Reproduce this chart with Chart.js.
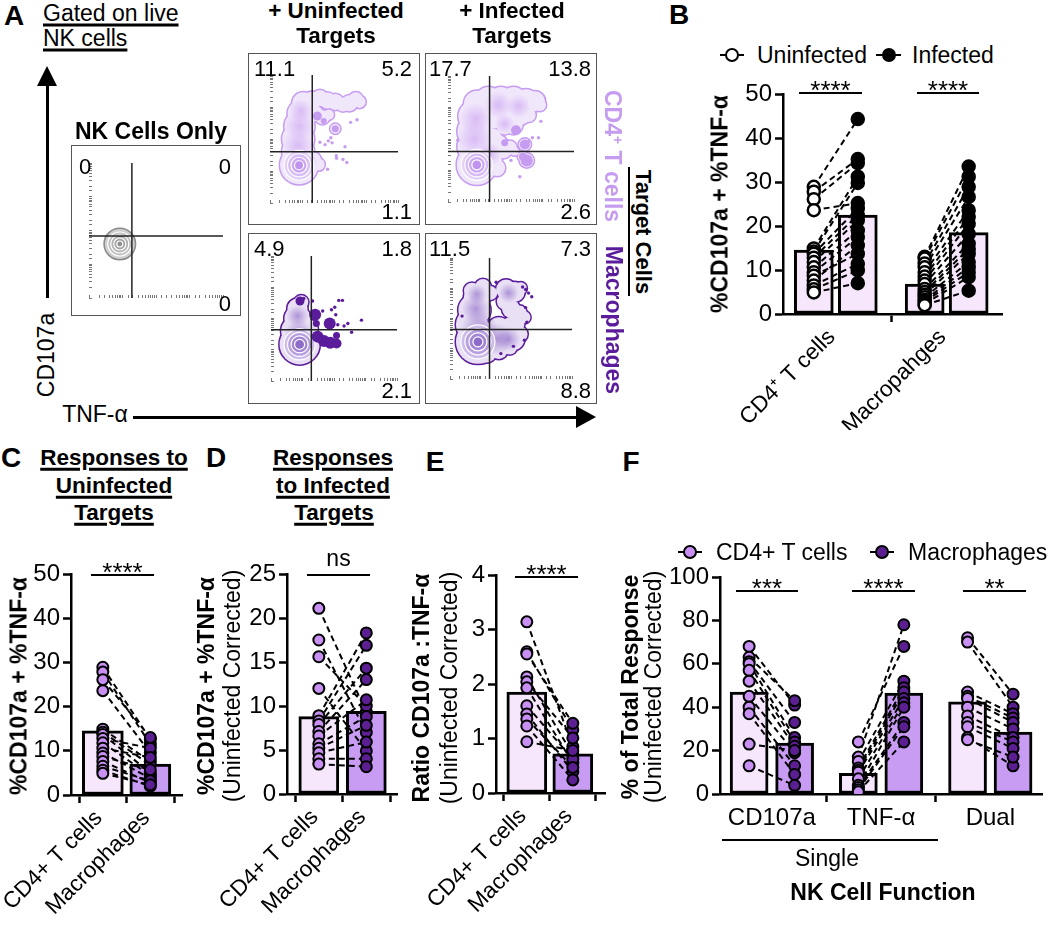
<!DOCTYPE html>
<html>
<head>
<meta charset="utf-8">
<script src="https://cdn.jsdelivr.net/npm/chart.js@4.4.0/dist/chart.umd.min.js"></script>
<style>
  html, body { margin: 0; padding: 0; background: #fff; }
  #fig { position: relative; width: 1050px; height: 925px; overflow: hidden;
         font-family: 'Liberation Sans', Arial, Helvetica, sans-serif; color: #000; }
  #fig canvas { position: absolute; }
  .abs { position: absolute; white-space: nowrap; line-height: 1; }
  .u { text-decoration: underline; text-decoration-thickness: 2.5px; text-underline-offset: 3px; }
  .box { position: absolute; box-sizing: border-box; border: 1.5px solid #555; pointer-events: none; }
  .bar { position: absolute; background: #000; }
</style>
</head>
<body>
<div id="fig"></div>
<script>
// ---- Panel A : flow plots (x = TNF-a, y = CD107a, both 0-100 of the axis range)
const nkBlobs = [[23, 40, 15]];
const nkCore = [23, 40];
const nkRings = [12, 9, 6, 3];
const nkGate = [32, 46];
const nkQuad = ['0', '0', '0'];

const tlBlobs = [[22.7, 29.5, 19], [22, 40, 16], [22, 50, 16], [23, 60, 15], [24, 70, 13], [26, 78, 11],
  [33, 33, 9], [38, 30, 6], [33, 80, 9], [39, 82, 8], [45, 80, 8], [51, 79, 8], [57, 77, 7], [62, 78, 8],
  [67, 81, 7], [70, 79, 6], [35, 70, 8], [41, 67, 7], [46, 69, 5], [51, 58, 5]];
const tlDense = [[22, 45, 16], [23, 60, 15], [24, 72, 12], [29, 32, 10]];
const tlSolids = [[37, 68, 4.5], [51, 58, 3.5], [42, 64, 3]];
const tlDots = [[63, 63], [68, 65], [39, 47.5], [43, 45.6], [45.6, 48.5], [48.5, 47], [58.6, 44], [47.5, 51],
  [51.8, 37], [57, 34], [60, 31.6], [45, 26.4], [52, 35]];
const tlCore = [22.7, 29.5];
const tlRings = [15, 11.5, 8, 4.5];
const tlGate = [33, 40];
const tlQuad = ['11.1', '5.2', '1.1'];

const trBlobs = [[22.9, 29.5, 20], [21, 44, 17], [21, 56, 17], [21, 68, 16], [23, 78, 13],
  [32, 81, 13], [42, 81, 13], [52, 81, 13], [62, 80, 12], [69, 80, 10], [73, 77, 6],
  [37, 68, 12], [47, 70, 12], [57, 69, 10], [64, 69, 7], [52, 61, 9], [45, 60, 8],
  [34, 50, 11], [40, 46, 9], [44, 41, 8], [49, 43, 7], [34, 33, 11], [39, 27, 8],
  [61, 45.6, 6], [59.5, 36, 5], [62.5, 33, 7], [53, 40, 4], [47.5, 43, 6]];
const trDense = [[21, 50, 18], [22, 66, 16], [40, 77, 14], [56, 76, 12], [33, 38, 12], [45, 62, 10]];
const trSolids = [[61, 45.6, 5], [62.5, 33, 6], [59.5, 36, 4], [54, 57, 5], [45, 47, 3.5]];
const trDots = [[7.8, 49], [73.7, 64], [67, 51], [71.8, 51], [57, 20], [50, 33], [46.6, 49], [64, 48]];
const trCore = [22.9, 29.5];
const trRings = [15.5, 12, 8.5, 5];
const trGate = [33, 40];
const trQuad = ['17.7', '13.8', '2.6'];

const blBlobs = [[22.7, 29.3, 20], [20, 40, 15], [21, 50, 13], [21, 58, 10], [24, 63, 7], [31, 34, 10], [30, 42, 9]];
const blDense = [[22, 38, 14], [21, 52, 11], [30, 34, 9]];
const blSolids = [[37, 35.5, 6], [42, 32, 6], [47, 30.6, 6], [52, 30, 5], [35, 53, 6], [36, 46, 3.5],
  [46.6, 46, 6], [52, 36.5, 3.5], [23, 64, 4.5]];
const blDots = [[26, 66], [33, 64], [41, 56], [48, 57], [50.6, 59], [53.8, 64.5], [56.7, 64.5], [51.4, 53],
  [61, 46], [58, 44], [64, 39], [71.8, 48.7], [53, 45]];
const blCore = [22.7, 29.3];
const blRings = [15.5, 12, 8.5, 5];
const blGate = [32, 41];
const blQuad = ['4.9', '1.8', '2.1'];

const brBlobs = [[22.9, 30.7, 22], [18, 45, 16], [20, 57, 16], [22, 67, 13], [18, 73, 8], [27, 76, 8], [33, 71, 7],
  [46, 74, 10], [53, 72, 10], [58, 75, 6], [45, 64, 8], [50, 58, 9], [57, 55, 7], [61, 51, 6], [55, 53, 7],
  [36, 33, 14], [44, 32, 13], [52, 33, 11], [57, 37, 8], [40, 42, 11], [50, 44, 9], [56, 45, 6],
  [30, 22, 10], [40, 24, 9], [49, 26, 7]];
const brDense = [[24, 42, 18], [38, 33, 16], [48, 33, 12], [21, 58, 14], [48, 71, 10], [22, 70, 10]];
const brSolids = [];
const brDots = [[37.8, 80], [59.5, 76], [62, 74], [64.4, 71], [67, 68], [9.9, 52], [62, 59], [63, 47],
  [61, 32], [52, 27], [41.7, 21]];
const brCore = [22.9, 30.7];
const brRings = [17, 13, 9, 5];
const brGate = [32.4, 41];
const brQuad = ['11.5', '7.3', '8.8'];

// ---- Panel B
const bCats = ['CD4⁺ T cells', 'Macropahges'];
const bSeries = ['Uninfected', 'Infected'];
const bUninfBars = [14.5, 6.8];
const bInfBars = [22.5, 18.5];
const bCd4Uninf = [28.9, 27.8, 26.1, 23.6, 14.9, 14.2, 13.7, 12.8, 11.8, 10.6, 9.5, 8.7, 7.6, 6.5, 5.6, 4.9];
const bCd4Inf = [44.3, 35.2, 34.3, 25.2, 31.2, 29.8, 24.0, 22.5, 21.3, 19.0, 17.5, 13.7, 15.6, 11.4, 9.9, 7.0];
const bMacUninf = [13.0, 12.6, 11.5, 10.6, 9.5, 8.5, 7.6, 6.8, 5.7, 5.0, 4.4, 3.8, 3.2, 2.8, 2.3, 2.0];
const bMacInf = [33.5, 31.2, 28.9, 26.6, 23.6, 22.1, 20.5, 18.2, 16.0, 14.8, 13.7, 11.8, 10.6, 9.5, 8.4, 5.3];
const bTicks = [0, 10, 20, 30, 40, 50];

// ---- Panel C
const cCats = ['CD4+ T cells', 'Macrophages'];
const cBars = [14.5, 7.0];
const cCd4 = [28.9, 27.8, 26.1, 23.6, 14.9, 14.2, 13.7, 12.8, 11.8, 10.6, 9.5, 8.7, 7.6, 6.5, 5.6, 4.9];
const cMac = [12.6, 11.5, 13.0, 9.5, 7.6, 6.8, 5.0, 10.6, 4.4, 8.5, 3.8, 5.7, 2.8, 3.2, 2.0, 2.3];
const cTicks = [0, 10, 20, 30, 40, 50];

// ---- Panel D
const dCats = ['CD4+ T cells', 'Macrophages'];
const dBars = [8.8, 9.4];
const dCd4 = [21.1, 17.5, 15.6, 12.0, 8.9, 8.3, 7.9, 7.1, 6.6, 5.7, 5.2, 4.7, 4.0, 3.4];
const dMac = [9.3, 7.0, 10.0, 4.9, 18.3, 16.9, 14.3, 13.0, 10.7, 8.8, 7.8, 5.9, 4.0, 3.1];
const dTicks = [0, 5, 10, 15, 20, 25];

// ---- Panel E
const eCats = ['CD4+ T cells', 'Macrophages'];
const eBars = [1.85, 0.72];
const eCd4 = [3.14, 2.59, 2.55, 2.13, 2.04, 1.93, 1.60, 1.45, 1.36, 1.23, 0.94];
const eMac = [0.85, 1.16, 1.28, 0.70, 1.01, 0.55, 0.62, 0.39, 0.47, 0.24, 0.78];
const eTicks = [0, 1, 2, 3, 4];

// ---- Panel F
const fCats = ['CD107a', 'TNF-α', 'Dual'];
const fSeries = ['CD4+ T cells', 'Macrophages'];
const fCd4Bars = [47, 9.5, 42.5];
const fMacBars = [23.5, 46.5, 28.5];
const fCd4 = [[68, 63, 61, 60, 57, 52, 45, 40, 37, 23, 13],
              [24, 17, 15, 12, 11, 10, 7, 4, 3, 2, 1],
              [72, 70, 47, 45, 44, 40, 36, 33, 31, 26, 25]];
const fMac = [[41, 43, 33, 26, 24, 22, 19, 13, 9, 20, 4],
              [68, 78, 52, 49, 47, 44, 42, 40, 33, 31, 24],
              [46, 40, 37, 35, 33, 30, 26, 24, 21, 13, 17]];
const fTicks = [0, 20, 40, 60, 80, 100];

// colours
const LIGHT_BAR = '#f7e7fc';
const DARK_BAR = '#c99cf3';
const CD4_PT = '#c890f2';
const MAC_PT = '#5c1f92';
const FONT = "'Liberation Sans', Arial, Helvetica, sans-serif";

Chart.defaults.font.family = FONT;
Chart.defaults.color = '#000';
Chart.defaults.animation = false;

const fig = document.getElementById('fig');

function addCanvas(left, top, w, h) {
  const c = document.createElement('canvas');
  c.width = w; c.height = h;
  c.style.left = left + 'px'; c.style.top = top + 'px';
  c.style.width = w + 'px'; c.style.height = h + 'px';
  fig.appendChild(c);
  return c;
}

// text centred on (x, y) unless align says otherwise
function txt(s, x, y, o = {}) {
  const el = document.createElement('div');
  el.className = 'abs' + (o.u ? ' u' : '');
  if (o.html) el.innerHTML = s; else el.textContent = s;
  el.style.left = x + 'px';
  el.style.top = y + 'px';
  el.style.fontSize = (o.size || 23) + 'px';
  el.style.fontWeight = o.bold ? 'bold' : 'normal';
  if (o.color) el.style.color = o.color;
  const ax = o.align === 'left' ? '0' : o.align === 'right' ? '-100%' : '-50%';
  el.style.transform = `translate(${ax}, -50%)` + (o.rot ? ` rotate(${o.rot}deg)` : '');
  fig.appendChild(el);
  return el;
}

function hline(x1, x2, y, w = 2.5) {
  const d = document.createElement('div');
  d.className = 'bar';
  Object.assign(d.style, { left: x1 + 'px', top: (y - w / 2) + 'px', width: (x2 - x1) + 'px', height: w + 'px' });
  fig.appendChild(d);
}
function vline(x, y1, y2, w = 2.5) {
  const d = document.createElement('div');
  d.className = 'bar';
  Object.assign(d.style, { left: (x - w / 2) + 'px', top: y1 + 'px', width: w + 'px', height: (y2 - y1) + 'px' });
  fig.appendChild(d);
}

function sig(x1, x2, y, label) {
  hline(x1, x2, y);
  if (label === 'ns') txt(label, (x1 + x2) / 2, y - 17, { size: 23 });
  else txt(label, (x1 + x2) / 2, y - 3, { size: 26 });
}

function legendMark(x1, x2, y, fill) {
  hline(x1, x2, y, 2.5);
  const c = document.createElement('div');
  Object.assign(c.style, { position: 'absolute', left: ((x1 + x2) / 2 - 7) + 'px', top: (y - 7) + 'px',
    width: '14px', height: '14px', boxSizing: 'border-box', borderRadius: '50%',
    border: '2.5px solid #000', background: fill });
  fig.appendChild(c);
}

// ---------- flow cytometry plots ----------
const palNk = { line: '#8a8a8a', fill: '#cfcfcf', dense: [0, 0, 0, 0], rings: ['#c2c2c2', '#b2b2b2', '#a2a2a2', '#8f8f8f'] };
const palCd4 = { line: '#c69cf1', fill: '#f1e7fb', dense: [196, 150, 240, 0.55], rings: ['#e3cff8', '#d8bcf5', '#cca8f2', '#bf93ee'] };
const palMac = { line: '#5b1c9b', fill: '#e9e0f5', dense: [125, 85, 190, 0.55], rings: ['#cdbbeb', '#b8a0e0', '#a386d5', '#8c6bc9'] };

// soft radial shading for the denser parts of a population
function softFill(rgba) {
  return c => {
    const raw = c.raw;
    if (!raw || !c.chart.chartArea) return 'rgba(0,0,0,0)';
    const px = c.chart.scales.x.getPixelForValue(raw.x);
    const py = c.chart.scales.y.getPixelForValue(raw.y);
    const g = c.chart.ctx.createRadialGradient(px, py, 0, px, py, raw.r);
    const [r, gg, b, a] = rgba;
    g.addColorStop(0, `rgba(${r},${gg},${b},${a})`);
    g.addColorStop(1, `rgba(${r},${gg},${b},0)`);
    return g;
  };
}

function flowPlot(box, blobs, dense, solids, dots, core, rings, gate, pal) {
  const [l, t, w, h] = box;
  const cv = addCanvas(l, t, w, h);
  const bub = arr => arr.map(([x, y, r]) => ({ x, y, r }));
  const blobPts = bub(blobs);
  const ringPts = rings.map(r => ({ x: core[0], y: core[1], r }));
  new Chart(cv, {
    type: 'bubble',
    data: {
      datasets: [
        { data: blobPts, backgroundColor: pal.line, borderColor: pal.line, borderWidth: 3, order: 10, clip: 0 },
        { data: blobPts, backgroundColor: pal.fill, borderWidth: 0, order: 9, clip: 0 },
        { data: bub(dense), backgroundColor: softFill(pal.dense), borderWidth: 0, order: 8, clip: 0 },
        { data: ringPts, backgroundColor: pal.rings, borderColor: '#fff', borderWidth: 1.2, order: 7, clip: 0 },
        { data: bub(solids), backgroundColor: pal.line, borderWidth: 0, order: 6, clip: 0 },
        { type: 'scatter', data: dots.map(([x, y]) => ({ x, y })), pointRadius: 1.7, backgroundColor: pal.line,
          borderWidth: 0, order: 5, clip: 0 },
        { type: 'line', data: [{ x: gate[0], y: 0 }, { x: gate[0], y: 100 }], borderColor: '#222', borderWidth: 1.5,
          pointRadius: 0, order: 4 },
        { type: 'line', data: [{ x: 0, y: gate[1] }, { x: 100, y: gate[1] }], borderColor: '#222', borderWidth: 1.5,
          pointRadius: 0, order: 4 }
      ]
    },
    options: {
      responsive: false,
      layout: { padding: 0 },
      plugins: { legend: { display: false }, tooltip: { enabled: false } },
      events: [],
      scales: {
        x: { type: 'linear', min: 0, max: 100, display: false },
        y: { type: 'linear', min: 0, max: 100, display: false },
        lx: { type: 'logarithmic', position: 'bottom', min: 1, max: 10000,
              ticks: { display: false, autoSkip: false },
              grid: { drawOnChartArea: false, tickLength: -3, tickColor: '#777', tickWidth: 1 },
              border: { display: false }, afterFit: s => { s.height = 0; } },
        ly: { type: 'logarithmic', position: 'left', min: 1, max: 10000,
              ticks: { display: false, autoSkip: false },
              grid: { drawOnChartArea: false, tickLength: -3, tickColor: '#777', tickWidth: 1 },
              border: { display: false }, afterFit: s => { s.width = 0; } }
      }
    }
  });
  const b = document.createElement('div');
  b.className = 'box';
  Object.assign(b.style, { left: l + 'px', top: t + 'px', width: w + 'px', height: h + 'px' });
  fig.appendChild(b);
}

function quadLabels(box, q, dx, dyTop, dyBot, size = 22) {
  const [l, t, w, h] = box;
  txt(q[0], l + dx, t + dyTop, { align: 'left', size });
  txt(q[1], l + w - dx - 2, t + dyTop, { align: 'right', size });
  txt(q[2], l + w - dx - 2, t + h - dyBot, { align: 'right', size });
}

const boxNk = [71, 145, 170, 171];
const boxTL = [248, 53, 172, 172];
const boxTR = [425, 53, 172, 172];
const boxBL = [248, 233, 172, 171];
const boxBR = [425, 233, 172, 171];

flowPlot(boxNk, nkBlobs, [], [], [], nkCore, nkRings, nkGate, palNk);
flowPlot(boxTL, tlBlobs, tlDense, tlSolids, tlDots, tlCore, tlRings, tlGate, palCd4);
flowPlot(boxTR, trBlobs, trDense, trSolids, trDots, trCore, trRings, trGate, palCd4);
flowPlot(boxBL, blBlobs, blDense, blSolids, blDots, blCore, blRings, blGate, palMac);
flowPlot(boxBR, brBlobs, brDense, brSolids, brDots, brCore, brRings, brGate, palMac);

quadLabels(boxNk, nkQuad, 8, 22, 12);
quadLabels(boxTL, tlQuad, 6, 16, 13);
quadLabels(boxTR, trQuad, 4, 16, 13);
quadLabels(boxBL, blQuad, 6, 16, 13);
quadLabels(boxBR, brQuad, 4, 16, 13);

// ---------- paired bar panels ----------
function pairPanel(p) {
  const [cl, ct, cw, ch] = p.canvas;
  const [al, at, ar, ab] = p.area;
  const cv = addCanvas(cl, ct, cw, ch);
  const xAt = (g, m) => p.start + g * p.gap + m;
  const bars = [], barFill = [], pairs = [], ptsA = [], ptsB = [];
  p.groups.forEach((grp, g) => {
    bars.push({ x: xAt(g, 0), y: grp.barA }, { x: xAt(g, 1), y: grp.barB });
    barFill.push(p.barColors[0], p.barColors[1]);
    grp.a.forEach((v, i) => {
      const w = grp.b[i];
      pairs.push({ x: xAt(g, 0), y: v }, { x: xAt(g, 1), y: w }, { x: xAt(g, 1), y: null });
      ptsA.push({ x: xAt(g, 0), y: v });
      ptsB.push({ x: xAt(g, 1), y: w });
    });
  });
  const tickVals = p.tickAt.map(([g, m]) => xAt(g, m));
  new Chart(cv, {
    type: 'bar',
    data: {
      datasets: [
        { type: 'scatter', data: ptsA, pointRadius: p.r, backgroundColor: p.ptColors[0], borderColor: '#000',
          borderWidth: p.bw, order: 1 },
        { type: 'scatter', data: ptsB, pointRadius: p.r, backgroundColor: p.ptColors[1], borderColor: '#000',
          borderWidth: p.bw, order: 1 },
        { type: 'line', data: pairs, borderColor: '#000', borderWidth: 2, borderDash: [6, 4], pointRadius: 0,
          spanGaps: false, order: 2 },
        { type: 'bar', data: bars, backgroundColor: barFill, borderColor: '#000', borderWidth: 3,
          borderSkipped: false, barThickness: p.barW, order: 3 }
      ]
    },
    options: {
      responsive: false,
      events: [],
      layout: { padding: { top: at - ct, right: cl + cw - ar, left: 0, bottom: 0 } },
      plugins: { legend: { display: false }, tooltip: { enabled: false } },
      scales: {
        x: {
          type: 'linear', min: 0, max: (ar - al) / p.unit, offset: false,
          // fixed axis box: no extra room for the slanted labels
          afterFit: s => { s.height = ct + ch - ab; s.paddingLeft = 0; s.paddingRight = 0; },
          afterBuildTicks: s => { s.ticks = tickVals.map(v => ({ value: v })); },
          ticks: { autoSkip: false, callback: (v, i) => p.labels[i], minRotation: p.rot, maxRotation: p.rot,
                   labelOffset: p.rot ? -4 : 0, font: { size: p.rot ? 22.5 : 24 }, color: '#000', padding: 2 },
          grid: { drawOnChartArea: false, tickLength: 8, tickWidth: 2.5, tickColor: '#000' },
          border: { color: '#000', width: 2.5 }
        },
        y: {
          type: 'linear', min: 0, max: p.yTicks[p.yTicks.length - 1],
          afterFit: s => { s.width = al - cl; s.paddingTop = 0; s.paddingBottom = 0; },
          afterBuildTicks: s => { s.ticks = p.yTicks.map(v => ({ value: v })); },
          ticks: { font: { size: 24 }, color: '#000', padding: 3 },
          grid: { drawOnChartArea: false, tickLength: 8, tickWidth: 2.5, tickColor: '#000' },
          border: { color: '#000', width: 2.5 }
        }
      }
    }
  });
}

// B
pairPanel({
  canvas: [680, 70, 370, 360], area: [783, 94, 1002, 314], unit: 44, start: 0.70, gap: 2.52,
  groups: [{ barA: bUninfBars[0], barB: bInfBars[0], a: bCd4Uninf, b: bCd4Inf },
           { barA: bUninfBars[1], barB: bInfBars[1], a: bMacUninf, b: bMacInf }],
  barColors: [LIGHT_BAR, LIGHT_BAR], ptColors: ['#fff', '#000'], r: 6, bw: 2.5, barW: 39,
  tickAt: [[0, 0.5], [1, 0.5]], labels: bCats, rot: 45, yTicks: bTicks
});
// C
pairPanel({
  canvas: [0, 540, 200, 385], area: [71, 574, 182, 795], unit: 47.5, start: 0.67, gap: 0,
  groups: [{ barA: cBars[0], barB: cBars[1], a: cCd4, b: cMac }],
  barColors: [LIGHT_BAR, DARK_BAR], ptColors: [CD4_PT, MAC_PT], r: 5.5, bw: 2, barW: 41,
  tickAt: [[0, 0], [0, 1]], labels: cCats, rot: 45, yTicks: cTicks
});
// D
pairPanel({
  canvas: [200, 540, 215, 385], area: [287, 574, 397, 794], unit: 47.5, start: 0.67, gap: 0,
  groups: [{ barA: dBars[0], barB: dBars[1], a: dCd4, b: dMac }],
  barColors: [LIGHT_BAR, DARK_BAR], ptColors: [CD4_PT, MAC_PT], r: 5.5, bw: 2, barW: 40,
  tickAt: [[0, 0], [0, 1]], labels: dCats, rot: 45, yTicks: dTicks
});
// E
pairPanel({
  canvas: [415, 540, 205, 385], area: [496, 575, 605, 793], unit: 46, start: 0.67, gap: 0,
  groups: [{ barA: eBars[0], barB: eBars[1], a: eCd4, b: eMac }],
  barColors: [LIGHT_BAR, DARK_BAR], ptColors: [CD4_PT, MAC_PT], r: 5.5, bw: 2, barW: 40,
  tickAt: [[0, 0], [0, 1]], labels: eCats, rot: 45, yTicks: eTicks
});
// F
pairPanel({
  canvas: [620, 540, 430, 300], area: [720, 577, 1046, 794], unit: 46, start: 0.64, gap: 2.4,
  groups: fCats.map((c, g) => ({ barA: fCd4Bars[g], barB: fMacBars[g], a: fCd4[g], b: fMac[g] })),
  barColors: [LIGHT_BAR, DARK_BAR], ptColors: [CD4_PT, MAC_PT], r: 5.5, bw: 2, barW: 38,
  tickAt: [[0, 0.5], [1, 0.5], [2, 0.5]], labels: fCats, rot: 0, yTicks: fTicks
});

// ---------- text and decorations ----------
// A
txt('A', 14, 16, { size: 28, bold: true });
txt('Gated on live', 43, 13, { align: 'left', u: true });
txt('NK cells', 43, 38, { align: 'left', u: true });
vline(47, 84, 298, 3);
const upHead = document.createElement('div');
Object.assign(upHead.style, { position: 'absolute', left: '37px', top: '66px', width: 0, height: 0,
  borderLeft: '10px solid transparent', borderRight: '10px solid transparent', borderBottom: '20px solid #000' });
fig.appendChild(upHead);
txt('CD107a', 46, 355, { rot: -90 });
txt('TNF-α', 95, 414);
hline(133, 580, 417, 3);
const rightHead = document.createElement('div');
Object.assign(rightHead.style, { position: 'absolute', left: '576px', top: '406px', width: 0, height: 0,
  borderTop: '11px solid transparent', borderBottom: '11px solid transparent', borderLeft: '20px solid #000' });
fig.appendChild(rightHead);
txt('NK Cells Only', 151, 131, { size: 23, bold: true });
txt('+ Uninfected', 336, 11, { size: 22.5, bold: true });
txt('Targets', 336, 36, { size: 22.5, bold: true });
txt('+ Infected', 512, 11, { size: 22.5, bold: true });
txt('Targets', 512, 36, { size: 22.5, bold: true });
txt('CD4<sup style="font-size:14px">+</sup> T cells', 613, 156, { html: true, bold: true, color: palCd4.line, rot: 90, size: 23 });
txt('Macrophages', 613, 320, { bold: true, color: palMac.line, rot: 90, size: 23 });
txt('Target Cells', 643, 232, { bold: true, rot: 90, size: 22 });
vline(629, 167, 296, 2.5);

// B
txt('B', 679, 15, { size: 28, bold: true });
legendMark(720, 744, 55, '#fff');
txt(bSeries[0], 757, 55, { align: 'left' });
legendMark(876, 901, 55, '#000');
txt(bSeries[1], 912, 55, { align: 'left' });
txt('%CD107a + %TNF-α', 720, 204, { bold: true, rot: -90 });
sig(799, 862, 93, '****');
sig(917, 979, 93, '****');

// C
txt('C', 11, 458, { size: 28, bold: true });
txt('Responses to', 114, 458, { bold: true, size: 22.5, u: true });
txt('Uninfected', 114, 486, { bold: true, size: 22.5, u: true });
txt('Targets', 114, 513, { bold: true, size: 22.5, u: true });
txt('%CD107a + %TNF-α', 19, 686, { bold: true, rot: -90 });
sig(91, 154, 575, '****');

// D
txt('D', 216, 458, { size: 28, bold: true });
txt('Responses', 333, 458, { bold: true, size: 22.5, u: true });
txt('to Infected', 333, 486, { bold: true, size: 22.5, u: true });
txt('Targets', 334, 513, { bold: true, size: 22.5, u: true });
txt('%CD107a + %TNF-α', 206, 686, { bold: true, rot: -90 });
txt('(Uninfected Corrected)', 232, 686, { rot: -90 });
sig(307, 370, 575, 'ns');

// E
txt('E', 435, 462, { size: 28, bold: true });
txt('Ratio CD107a :TNF-α', 421, 688, { bold: true, rot: -90 });
txt('(Uninfected Corrected)', 449, 688, { rot: -90 });
sig(515, 578, 577, '****');

// F
txt('F', 631, 462, { size: 28, bold: true });
legendMark(678, 702, 552, CD4_PT);
txt(fSeries[0], 716, 552, { align: 'left' });
legendMark(870, 894, 552, MAC_PT);
txt(fSeries[1], 908, 552, { align: 'left' });
txt('% of Total Response', 630, 687, { bold: true, rot: -90 });
txt('(Uninfected Corrected)', 653, 687, { rot: -90 });
sig(736, 798, 591, '***');
sig(852, 915, 591, '****');
sig(963, 1026, 591, '**');
hline(722, 938, 840, 2.5);
txt('Single', 827, 858);
txt('NK Cell Function', 883, 892, { bold: true });
</script>
</body>
</html>
